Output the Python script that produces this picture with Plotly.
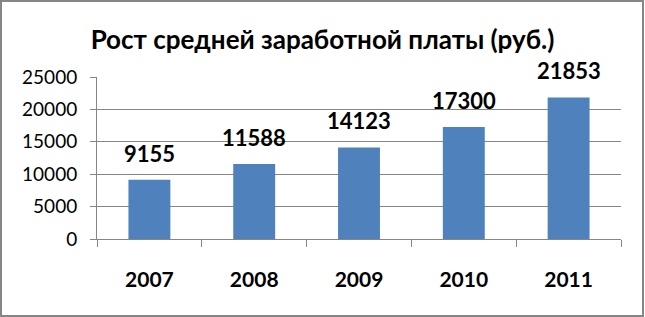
import plotly.graph_objects as go

years = ["2007", "2008", "2009", "2010", "2011"]
salary = [9155, 11588, 14123, 17300, 21853]
y_ticks = [0, 5000, 10000, 15000, 20000, 25000]
title = "Рост средней заработной платы (руб.)"

W, H = 645, 317
L, R, T, B = 97, 24, 77, 78
pw, ph = W - L - R, H - T - B
FONT = "Lato, Open Sans, sans-serif"

fig = go.Figure()
fig.add_trace(go.Bar(x=years, y=salary, marker=dict(color="#4F81BD", line=dict(width=0)),
                     hoverinfo="x+y"))

for i, v in enumerate(salary):
    fig.add_annotation(x=i, y=v, text=f"<b>{v}</b>", showarrow=False, yanchor="bottom",
                       yshift=11, font=dict(family=FONT, size=22, color="#000"))

# chart border
fig.add_shape(type="rect", xref="paper", yref="paper",
              x0=(1 - L) / pw, x1=(643 - L) / pw,
              y0=-(316 - (T + ph)) / ph, y1=1 + (T - 1) / ph,
              line=dict(color="#868686", width=2), layer="below")

fig.update_layout(
    width=W, height=H,
    margin=dict(l=L, r=R, t=T, b=B),
    paper_bgcolor="white", plot_bgcolor="white",
    bargap=0.6,
    showlegend=False,
    title=dict(text=f"<b>{title}</b>", x=0.5, xref="container", xanchor="center",
               y=1 - 40 / H, yanchor="middle",
               font=dict(family=FONT, size=26, color="#000")),
    xaxis=dict(type="category", categoryorder="array", categoryarray=years,
               range=[-0.5, len(years) - 0.5],
               tickson="boundaries", ticks="outside", ticklen=7,
               tickcolor="#868686", showline=True, linecolor="#868686", linewidth=1,
               showgrid=False, ticklabelstandoff=22, tickangle=0,
               tickfont=dict(family=FONT, size=21, color="#000", weight="bold")),
    yaxis=dict(range=[0, 25000], tickvals=y_ticks, tickformat="d", ticks="outside", ticklen=6,
               tickcolor="#868686", showline=True, linecolor="#868686", linewidth=1,
               showgrid=True, gridcolor="#868686", gridwidth=1, zeroline=False,
               ticklabelstandoff=9,
               tickfont=dict(family=FONT, size=19, color="#000")),
)

fig.write_html("out.html")
